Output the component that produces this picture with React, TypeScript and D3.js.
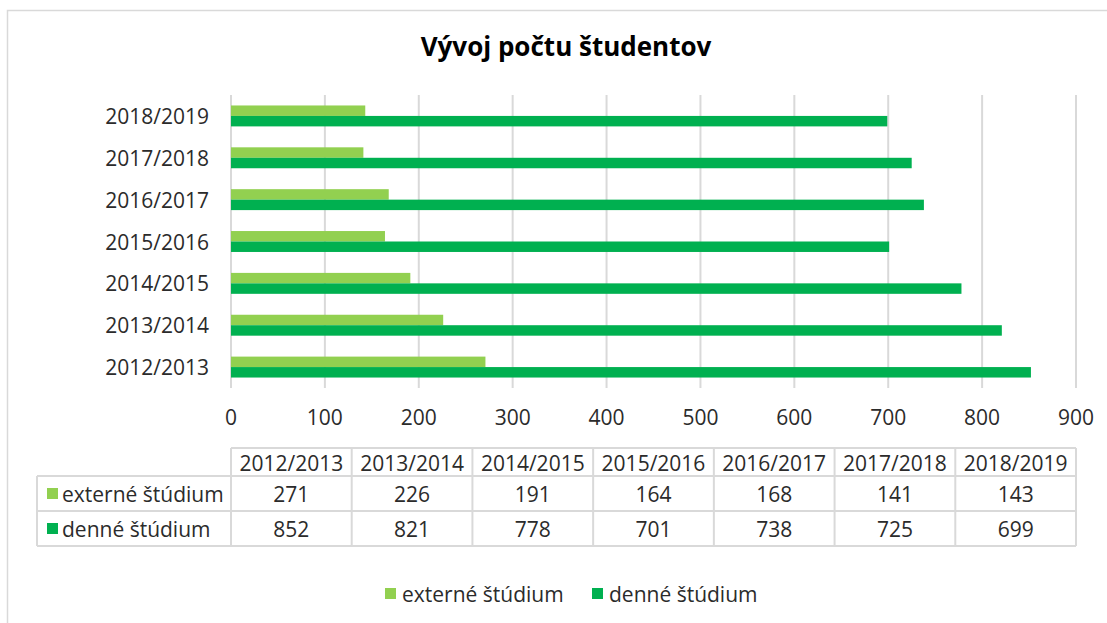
import * as d3 from 'd3';
import React from 'react';

// school years, bottom to top as in the chart
const years = ['2012/2013', '2013/2014', '2014/2015', '2015/2016', '2016/2017', '2017/2018', '2018/2019'];
const seriesNames = ['externé štúdium', 'denné štúdium'];
const externe = [271, 226, 191, 164, 168, 141, 143];
const denne = [852, 821, 778, 701, 738, 725, 699];
const xTicks = [0, 100, 200, 300, 400, 500, 600, 700, 800, 900];

const colors = ['#92D050', '#00B050'];
const textColor = '#2b2b2b';
const gridColor = '#D9D9D9';
const font = '"Open Sans", sans-serif';
const fs = 21;

export default function App() {
    const width = 1107;
    const height = 623;
    const plot = { left: 231, right: 1076, top: 95, bottom: 388 };
    const seriesValues = [externe, denne];

    // Get x scale
    const x = d3.scaleLinear()
        .domain([0, 900])
        .range([plot.left, plot.right]);

    // Get y scale (top category first)
    const y = d3.scaleBand<string>()
        .domain(years.slice().reverse())
        .range([plot.top, plot.bottom])
        .paddingInner(0.5)
        .paddingOuter(0.25);

    const ySub = d3.scaleBand<number>()
        .domain([0, 1])
        .range([0, y.bandwidth()]);

    // data table below the axis
    const table = { left: 37, top: 448, headH: 28, rowH: 35 };
    const col = d3.scaleBand<string>()
        .domain(years)
        .range([plot.left, plot.right]);
    const tableBottom = table.top + table.headH + 2 * table.rowH;

    return (
        <svg width={width} height={height} style={{ position: 'absolute', left: 0, top: 0, background: '#fff' }}
            fontFamily={font}>
            <rect x={7.5} y={10.5} width={width + 10} height={height + 10} fill="#fff" stroke={gridColor} strokeWidth={1.5} />

            <text x={566} y={49} textAnchor="middle" dominantBaseline="middle" fontSize={26} fontWeight="bold" fill="#000">
                Vývoj počtu študentov
            </text>

            {/* Gridlines */}
            {xTicks.map(t => (
                <line key={'g' + t} x1={x(t)} x2={x(t)} y1={plot.top} y2={plot.bottom} stroke={gridColor} strokeWidth={2} />
            ))}

            {/* Bars */}
            {years.map((yr, i) => (
                <g key={yr} transform={'translate(0,' + y(yr) + ')'}>
                    {seriesValues.map((vals, s) => (
                        <rect key={s} x={x(0)} y={ySub(s)} width={x(vals[i]) - x(0)} height={ySub.bandwidth()} fill={colors[s]} />
                    ))}
                </g>
            ))}

            {/* Category labels */}
            {years.map(yr => (
                <text key={'l' + yr} x={209} y={(y(yr) as number) + y.bandwidth() / 2} textAnchor="end"
                    dominantBaseline="central" fontSize={fs} fill={textColor}>{yr}</text>
            ))}

            {/* x tick labels */}
            {xTicks.map(t => (
                <text key={'t' + t} x={x(t)} y={417} textAnchor="middle" dominantBaseline="central" fontSize={fs} fill={textColor}>{t}</text>
            ))}

            {/* Data table */}
            <g stroke={gridColor} strokeWidth={2} fill="none">
                <line x1={plot.left} x2={plot.right} y1={table.top} y2={table.top} />
                {[1, 2, 3].map(r => {
                    const yy = table.top + table.headH + (r - 1) * table.rowH;
                    return <line key={r} x1={table.left} x2={plot.right} y1={yy} y2={yy} />;
                })}
                <line x1={table.left} x2={table.left} y1={table.top + table.headH} y2={tableBottom} />
                {years.map(yr => (
                    <line key={yr} x1={col(yr)} x2={col(yr)} y1={table.top} y2={tableBottom} />
                ))}
                <line x1={plot.right} x2={plot.right} y1={table.top} y2={tableBottom} />
            </g>
            {years.map(yr => (
                <text key={'h' + yr} x={(col(yr) as number) + col.bandwidth() / 2} y={table.top + table.headH / 2 + 1}
                    textAnchor="middle" dominantBaseline="central" fontSize={fs} fill={textColor}>{yr}</text>
            ))}
            {seriesNames.map((name, s) => {
                const cy = table.top + table.headH + s * table.rowH + table.rowH / 2;
                return (
                    <g key={name}>
                        <rect x={47} y={cy - 5.5} width={11} height={11} fill={colors[s]} />
                        <text x={62} y={cy} dominantBaseline="central" fontSize={fs} fill={textColor}>{name}</text>
                        {years.map((yr, i) => (
                            <text key={yr} x={(col(yr) as number) + col.bandwidth() / 2} y={cy} textAnchor="middle"
                                dominantBaseline="central" fontSize={fs} fill={textColor}>{seriesValues[s][i]}</text>
                        ))}
                    </g>
                );
            })}

            {/* Legend */}
            {seriesNames.map((name, s) => {
                const lx = s === 0 ? 385 : 592;
                return (
                    <g key={'lg' + name}>
                        <rect x={lx} y={588} width={11} height={11} fill={colors[s]} />
                        <text x={lx + 17} y={593.5} dominantBaseline="central" fontSize={fs} fill={textColor}>{name}</text>
                    </g>
                );
            })}
        </svg>
    );
}
